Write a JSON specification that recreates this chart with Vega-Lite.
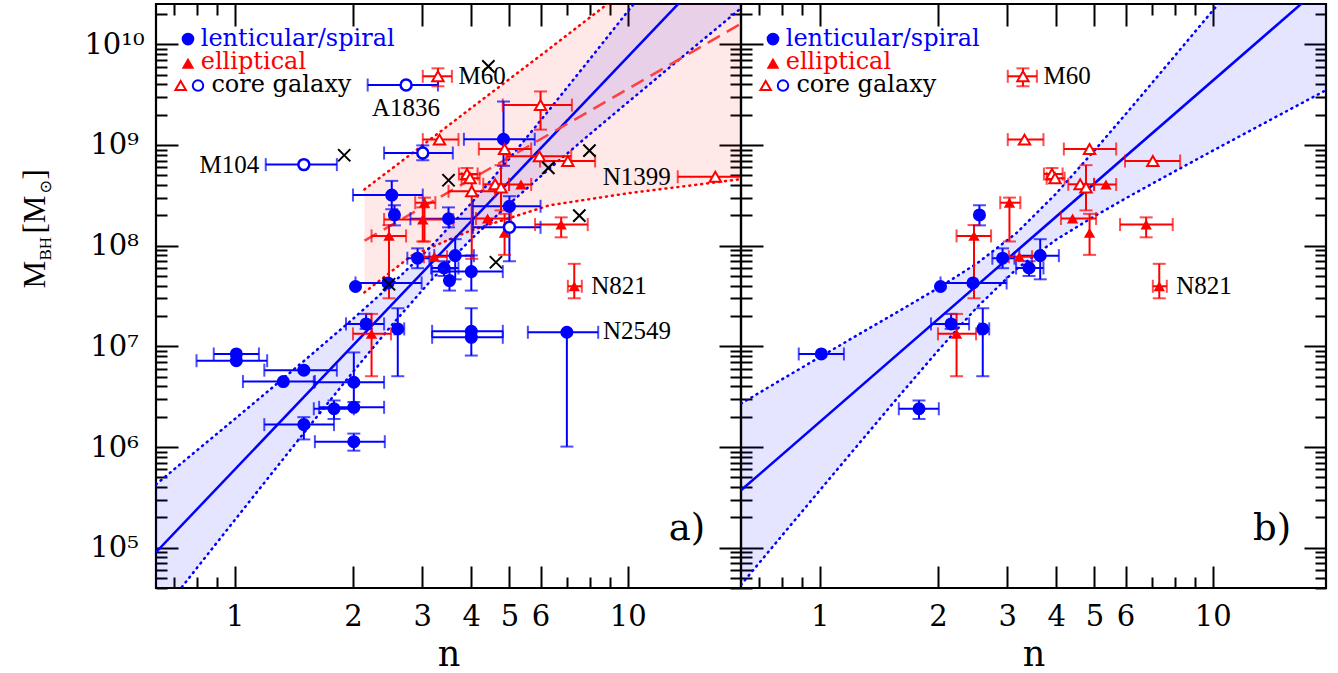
{
"$schema": "https://vega.github.io/schema/vega-lite/v6.json",
"background": "white",
"padding": {"left": 17, "top": 1, "right": 5, "bottom": 2},
"spacing": 0,
"bounds": "flush",
"config": {"view": {"stroke": "black", "strokeWidth": 2.2}, "axis": {"grid": false, "domain": false}},
"datasets": {
"pts": [
{"b":1,"t":"ls","n":1.01,"nlo":0.885,"nhi":1.153,"m":8.4e6,"mlo":8.4e6,"mhi":8.4e6},
{"b":1,"t":"ls","n":1.79,"nlo":1.59,"nhi":2.01,"m":2.4e6,"mlo":1.9e6,"mhi":2.9e6},
{"b":1,"t":"ls","n":2.03,"nlo":2.03,"nhi":2.03,"m":3.93e7,"mlo":3.93e7,"mhi":3.93e7},
{"b":1,"t":"ls","n":2.455,"nlo":2.03,"nhi":2.99,"m":4.26e7,"mlo":4.26e7,"mhi":4.26e7},
{"b":1,"t":"ls","n":2.55,"nlo":2.55,"nhi":2.55,"m":2.02e8,"mlo":1.59e8,"mhi":2.52e8},
{"b":1,"t":"ls","n":2.92,"nlo":2.75,"nhi":3.13,"m":7.5e7,"mlo":5.97e7,"mhi":9.4e7},
{"b":1,"t":"ls","n":3.64,"nlo":3.22,"nhi":4.06,"m":7.96e7,"mlo":4.63e7,"mhi":1.16e8},
{"b":1,"t":"ls","n":3.41,"nlo":3.16,"nhi":3.71,"m":6.0e7,"mlo":5.0e7,"mhi":7.0e7},
{"b":1,"t":"ls","n":2.16,"nlo":1.92,"nhi":2.40,"m":1.67e7,"mlo":1.49e7,"mhi":2.1e7},
{"b":1,"t":"ls","n":2.60,"nlo":2.55,"nhi":2.70,"m":1.49e7,"mlo":5.05e6,"mhi":2.39e7},
{"b":0,"t":"ls","n":2.51,"nlo":2.0,"nhi":3.01,"m":3.18e8,"mlo":2.3e8,"mhi":4.4e8},
{"b":0,"t":"ls","n":3.50,"nlo":2.80,"nhi":4.04,"m":1.85e8,"mlo":1.52e8,"mhi":2.4e8},
{"b":0,"t":"ls","n":1.01,"nlo":0.80,"nhi":1.21,"m":7.2e6,"mlo":7.2e6,"mhi":7.2e6},
{"b":0,"t":"ls","n":1.50,"nlo":1.19,"nhi":1.82,"m":5.8e6,"mlo":5.8e6,"mhi":5.8e6},
{"b":0,"t":"ls","n":1.33,"nlo":1.05,"nhi":1.60,"m":4.47e6,"mlo":4.47e6,"mhi":4.47e6},
{"b":0,"t":"ls","n":2.01,"nlo":1.59,"nhi":2.40,"m":4.4e6,"mlo":2.8e6,"mhi":8.7e6},
{"b":0,"t":"ls","n":2.01,"nlo":1.64,"nhi":2.40,"m":2.48e6,"mlo":2.48e6,"mhi":2.48e6},
{"b":0,"t":"ls","n":1.50,"nlo":1.19,"nhi":1.79,"m":1.67e6,"mlo":1.19e6,"mhi":1.98e6},
{"b":0,"t":"ls","n":2.01,"nlo":1.60,"nhi":2.41,"m":1.13e6,"mlo":9.2e5,"mhi":1.36e6},
{"b":0,"t":"ls","n":7.0,"nlo":5.57,"nhi":8.41,"m":1.38e7,"mlo":1.01e6,"mhi":1.38e7},
{"b":0,"t":"ls","n":4.0,"nlo":3.18,"nhi":4.81,"m":1.41e7,"mlo":1.41e7,"mhi":2.39e7},
{"b":0,"t":"ls","n":4.0,"nlo":3.18,"nhi":4.81,"m":1.23e7,"mlo":8.1e6,"mhi":1.23e7},
{"b":0,"t":"ls","n":3.52,"nlo":3.52,"nhi":3.52,"m":4.5e7,"mlo":3.58e7,"mhi":5.9e7},
{"b":0,"t":"ls","n":4.0,"nlo":3.18,"nhi":4.81,"m":5.53e7,"mlo":3.58e7,"mhi":8.0e7},
{"b":0,"t":"ls","n":4.83,"nlo":3.83,"nhi":5.80,"m":1.14e9,"mlo":6.2e8,"mhi":2.7e9},
{"b":0,"t":"ls","n":5.0,"nlo":4.04,"nhi":6.0,"m":2.46e8,"mlo":2.46e8,"mhi":2.46e8},
{"b":1,"t":"el","n":2.47,"nlo":2.23,"nhi":2.73,"m":1.25e8,"mlo":3.0e7,"mhi":1.6e8},
{"b":1,"t":"el","n":3.04,"nlo":2.88,"nhi":3.24,"m":2.67e8,"mlo":1.1e8,"mhi":3.0e8},
{"b":1,"t":"el","n":3.22,"nlo":3.03,"nhi":3.47,"m":7.76e7,"mlo":7.76e7,"mhi":7.76e7},
{"b":1,"t":"el","n":2.23,"nlo":2.0,"nhi":2.50,"m":1.33e7,"mlo":5.05e6,"mhi":2.1e7},
{"b":1,"t":"el","n":5.35,"nlo":4.99,"nhi":5.68,"m":4.05e8,"mlo":4.05e8,"mhi":4.05e8},
{"b":1,"t":"el","n":4.40,"nlo":4.11,"nhi":5.05,"m":1.86e8,"mlo":1.86e8,"mhi":1.86e8},
{"b":1,"t":"el","n":4.86,"nlo":4.86,"nhi":4.86,"m":1.34e8,"mlo":8.1e7,"mhi":2.07e8},
{"b":1,"t":"el","n":6.77,"nlo":5.81,"nhi":7.91,"m":1.62e8,"mlo":1.21e8,"mhi":1.91e8},
{"b":1,"t":"el","n":7.31,"nlo":7.04,"nhi":7.64,"m":3.95e7,"mlo":3.0e7,"mhi":6.6e7},
{"b":0,"t":"el","n":3.01,"nlo":2.40,"nhi":3.60,"m":1.82e8,"mlo":1.1e8,"mhi":2.4e8},
{"b":0,"t":"cs","n":2.73,"nlo":2.18,"nhi":3.29,"m":3.94e9,"mlo":3.94e9,"mhi":3.94e9},
{"b":0,"t":"cs","n":1.50,"nlo":1.20,"nhi":1.82,"m":6.38e8,"mlo":6.38e8,"mhi":6.38e8},
{"b":0,"t":"cs","n":3.01,"nlo":2.40,"nhi":3.59,"m":8.32e8,"mlo":7.05e8,"mhi":9.9e8},
{"b":0,"t":"cs","n":5.0,"nlo":4.04,"nhi":6.0,"m":1.52e8,"mlo":7.0e7,"mhi":3.1e8},
{"b":1,"t":"ce","n":3.29,"nlo":3.01,"nhi":3.57,"m":4.81e9,"mlo":3.83e9,"mhi":5.77e9},
{"b":1,"t":"ce","n":3.32,"nlo":3.01,"nhi":3.71,"m":1.13e9,"mlo":1.13e9,"mhi":1.13e9},
{"b":1,"t":"ce","n":4.86,"nlo":4.18,"nhi":5.68,"m":9.12e8,"mlo":9.12e8,"mhi":9.12e8},
{"b":1,"t":"ce","n":7.04,"nlo":5.98,"nhi":8.26,"m":6.93e8,"mlo":6.93e8,"mhi":6.93e8},
{"b":1,"t":"ce","n":3.90,"nlo":3.72,"nhi":4.15,"m":5.15e8,"mlo":4.5e8,"mhi":5.9e8},
{"b":1,"t":"ce","n":3.97,"nlo":3.78,"nhi":4.2,"m":4.67e8,"mlo":4.67e8,"mhi":4.67e8},
{"b":1,"t":"ce","n":4.60,"nlo":4.29,"nhi":4.99,"m":4.07e8,"mlo":4.07e8,"mhi":4.07e8},
{"b":1,"t":"ce","n":4.76,"nlo":4.76,"nhi":4.76,"m":3.78e8,"mlo":2.24e8,"mhi":6.3e8},
{"b":0,"t":"ce","n":6.0,"nlo":4.81,"nhi":7.21,"m":2.49e9,"mlo":1.42e9,"mhi":3.4e9},
{"b":0,"t":"ce","n":5.96,"nlo":4.91,"nhi":7.18,"m":7.73e8,"mlo":7.73e8,"mhi":7.73e8},
{"b":0,"t":"ce","n":4.01,"nlo":3.5,"nhi":4.6,"m":3.47e8,"mlo":7.4e7,"mhi":5.1e8},
{"b":0,"t":"ce","n":16.7,"nlo":13.4,"nhi":20.0,"m":4.83e8,"mlo":4.83e8,"mhi":4.83e8}
],
"bands": [
{"g":"aB","n":0.631,"lo":1.91e4,"hi":4.256e5},
{"g":"aB","n":0.794,"lo":5.998e4,"hi":8.974e5},
{"g":"aB","n":1.0,"lo":1.875e5,"hi":1.892e6},
{"g":"aB","n":1.259,"lo":5.834e5,"hi":4.018e6},
{"g":"aB","n":1.585,"lo":1.803e6,"hi":8.59e6},
{"g":"aB","n":1.995,"lo":5.508e6,"hi":1.858e7},
{"g":"aB","n":2.512,"lo":1.629e7,"hi":4.15e7},
{"g":"aB","n":3.162,"lo":4.539e7,"hi":9.84e7},
{"g":"aB","n":3.981,"lo":1.143e8,"hi":2.588e8},
{"g":"aB","n":5.012,"lo":2.63e8,"hi":7.413e8},
{"g":"aB","n":6.31,"lo":5.781e8,"hi":2.228e9},
{"g":"aB","n":7.943,"lo":1.245e9,"hi":6.839e9},
{"g":"aB","n":10.0,"lo":2.649e9,"hi":2.123e10},
{"g":"aB","n":12.59,"lo":5.61e9,"hi":6.622e10},
{"g":"aB","n":15.85,"lo":1.183e10,"hi":2.075e11},
{"g":"aB","n":19.41,"lo":2.28e10,"hi":5.675e11},
{"g":"aR","n":2.138,"lo":3.428e7,"hi":3.614e8},
{"g":"aR","n":2.818,"lo":7.943e7,"hi":8.2e8},
{"g":"aR","n":3.981,"lo":1.413e8,"hi":2.3e9},
{"g":"aR","n":6.31,"lo":2.512e8,"hi":9.0e9},
{"g":"aR","n":10.0,"lo":3.311e8,"hi":3.6e10},
{"g":"aR","n":19.41,"lo":4.571e8,"hi":3.0e11},
{"g":"bB","n":0.631,"lo":4.276e4,"hi":2.7e6},
{"g":"bB","n":0.794,"lo":1.259e5,"hi":4.6e6},
{"g":"bB","n":1.0,"lo":3.698e5,"hi":7.8e6},
{"g":"bB","n":1.259,"lo":1.081e6,"hi":1.32e7},
{"g":"bB","n":1.585,"lo":3.141e6,"hi":2.22e7},
{"g":"bB","n":1.995,"lo":8.954e6,"hi":3.76e7},
{"g":"bB","n":2.512,"lo":2.438e7,"hi":6.653e7},
{"g":"bB","n":3.162,"lo":5.821e7,"hi":1.327e8},
{"g":"bB","n":3.981,"lo":1.135e8,"hi":3.243e8},
{"g":"bB","n":5.012,"lo":1.972e8,"hi":8.892e8},
{"g":"bB","n":6.31,"lo":3.289e8,"hi":2.541e9},
{"g":"bB","n":7.943,"lo":5.383e8,"hi":7.396e9},
{"g":"bB","n":10.0,"lo":8.77e8,"hi":2.163e10},
{"g":"bB","n":12.59,"lo":1.419e9,"hi":6.368e10},
{"g":"bB","n":15.85,"lo":2.296e9,"hi":1.875e11},
{"g":"bB","n":19.41,"lo":3.499e9,"hi":4.853e11}
],
"fits": [
{"g":"aB","n":0.631,"m":9.02e4},{"g":"aB","n":15.85,"m":4.95e10},
{"g":"bB","n":0.631,"m":3.72e5},{"g":"bB","n":19.41,"m":4.12e10},
{"g":"aR","n":2.141,"m":1.122e8},{"g":"aR","n":19.41,"m":1.6e10}
],
"xs": [
{"n":1.90,"m":7.9e8},{"n":4.42,"m":6.04e9},{"n":3.50,"m":4.46e8},{"n":6.28,"m":5.93e8},
{"n":7.99,"m":8.8e8},{"n":7.53,"m":1.99e8},{"n":4.62,"m":6.84e7},{"n":2.47,"m":4.14e7}
],
"labs": [
{"txt":"M60","n":3.71,"m":4.81e9,"al":"l","b":1},
{"txt":"A1836","n":2.73,"m":2.32e9,"al":"c","b":0},
{"txt":"M104","n":1.155,"m":6.38e8,"al":"r","b":0},
{"txt":"N1399","n":8.64,"m":4.78e8,"al":"l","b":0},
{"txt":"N821","n":8.07,"m":3.94e7,"al":"l","b":1},
{"txt":"N2549","n":8.65,"m":1.41e7,"al":"l","b":0}
],
"legsym": [
{"t":"ls","n":0.761,"m":1.127e10},{"t":"el","n":0.761,"m":6.47e9},
{"t":"ce","n":0.729,"m":3.89e9},{"t":"cs","n":0.807,"m":3.89e9}
],
"legtxt": [
{"t":"ls","txt":"lenticular/spiral","n":0.820,"m":9.7e9},
{"t":"el","txt":"elliptical","n":0.820,"m":5.69e9},
{"t":"k","txt":"core galaxy","n":0.873,"m":3.39e9}
],
"tags": [
{"p":"a","txt":"a)","n":14.15,"m":1.528e5},
{"p":"b","txt":"b)","n":14.15,"m":1.528e5}
]
},
"hconcat": [
{
"width": 585, "height": 584,
"resolve": {"axis": {"x": "independent", "y": "independent"}},
"layer": [
{"data": {"name": "bands"}, "transform": [{"filter": "datum.g == 'aB'"}],
 "mark": {"type": "area", "orient": "vertical", "clip": true, "fillOpacity": 0.1, "color": "#0000ff"},
 "encoding": {
  "x": {"field": "n", "type": "quantitative", "scale": {"type": "log", "domain": [0.631, 19.41], "nice": false},
        "axis": {"orient": "bottom", "values": [1,2,3,4,5,6,10], "format": "d", "ticks": false, "domain": false, "grid": false, "labelFont": "DejaVu Serif", "labelFontSize": 29, "labelColor": "black", "labelPadding": 14, "labelOverlap": false, "labelFlush": false, "title": "n", "titleFont": "DejaVu Serif", "titleFontSize": 35, "titleFontWeight": "normal", "titleColor": "black", "titleY": 77, "titleBaseline": "alphabetic"}},
  "y": {"field": "lo", "type": "quantitative", "scale": {"type": "log", "domain": [39810, 2.512e10], "nice": false},
        "axis": {"orient": "left", "values": [1e5,1e6,1e7,1e8,1e9,1e10], "labelExpr": "datum.value > 5e9 ? '10¹⁰' : datum.value > 5e8 ? '10⁹' : datum.value > 5e7 ? '10⁸' : datum.value > 5e6 ? '10⁷' : datum.value > 5e5 ? '10⁶' : '10⁵'", "ticks": false, "domain": false, "grid": false, "labelFont": "DejaVu Serif", "labelFontSize": 29, "labelColor": "black", "labelPadding": 42, "labelAlign": "center", "labelBaseline": "middle", "title": "M", "titleFont": "Liberation Serif", "titleFontSize": 31, "titleFontWeight": "normal", "titleColor": "black", "titleAngle": 270, "titleAlign": "left", "titleBaseline": "alphabetic", "titleX": -112, "titleY": 284}},
  "y2": {"field": "hi"}}},
{"data": {"name": "bands"}, "transform": [{"filter": "datum.g == 'aR'"}],
 "mark": {"type": "area", "orient": "vertical", "clip": true, "fillOpacity": 0.09, "color": "#ff0000"},
 "encoding": {
  "x": {"field": "n", "type": "quantitative", "scale": {"type": "log", "domain": [0.631, 19.41], "nice": false}, "axis": null},
  "y": {"field": "lo", "type": "quantitative", "scale": {"type": "log", "domain": [39810, 2.512e10], "nice": false}, "axis": null},
  "y2": {"field": "hi"}}},
{"data": {"name": "bands"}, "transform": [{"filter": "datum.g != 'bB'"}],
 "mark": {"type": "line", "clip": true, "strokeWidth": 2.5, "strokeDash": [1, 5], "strokeCap": "round"},
 "encoding": {
  "x": {"field": "n", "type": "quantitative", "scale": {"type": "log", "domain": [0.631, 19.41], "nice": false},
        "axis": {"orient": "bottom", "values": [1,2,3,4,5,6,10], "labels": false, "domain": false, "grid": false, "tickSize": -22, "tickWidth": 2, "tickColor": "black", "title": null}},
  "y": {"field": "lo", "type": "quantitative", "scale": {"type": "log", "domain": [39810, 2.512e10], "nice": false},
        "axis": {"orient": "left", "values": [1e5,1e6,1e7,1e8,1e9,1e10], "labels": false, "domain": false, "grid": false, "tickSize": -22, "tickWidth": 2, "tickColor": "black", "title": "BH", "titleFont": "Liberation Serif", "titleFontSize": 17, "titleFontWeight": "normal", "titleColor": "black", "titleAngle": 270, "titleAlign": "left", "titleBaseline": "alphabetic", "titleX": -106, "titleY": 256}},
  "color": {"field": "g", "type": "nominal", "scale": {"domain": ["ls","el","cs","ce","k","aB","aR","bB"], "range": ["#0000ff","#ff0000","#0000ff","#ff0000","#000000","#0000ff","#ff0000","#0000ff"]}, "legend": null}}},
{"data": {"name": "bands"}, "transform": [{"filter": "datum.g != 'bB'"}],
 "mark": {"type": "line", "clip": true, "strokeWidth": 2.5, "strokeDash": [1, 5], "strokeCap": "round"},
 "encoding": {
  "x": {"field": "n", "type": "quantitative", "scale": {"type": "log", "domain": [0.631, 19.41], "nice": false},
        "axis": {"orient": "bottom", "values": [0.7,0.8,0.9,7,8,9], "labels": false, "domain": false, "grid": false, "tickSize": -11, "tickWidth": 2, "tickColor": "black", "title": null}},
  "y": {"field": "hi", "type": "quantitative", "scale": {"type": "log", "domain": [39810, 2.512e10], "nice": false},
        "axis": {"orient": "left", "values": [40000,50000,60000,70000,80000,90000,200000,300000,400000,500000,600000,700000,800000,900000,2e6,3e6,4e6,5e6,6e6,7e6,8e6,9e6,2e7,3e7,4e7,5e7,6e7,7e7,8e7,9e7,2e8,3e8,4e8,5e8,6e8,7e8,8e8,9e8,2e9,3e9,4e9,5e9,6e9,7e9,8e9,9e9,2e10], "labels": false, "domain": false, "grid": false, "tickSize": -11, "tickWidth": 2, "tickColor": "black", "title": "[M", "titleFont": "Liberation Serif", "titleFontSize": 31, "titleFontWeight": "normal", "titleColor": "black", "titleAngle": 270, "titleAlign": "left", "titleBaseline": "alphabetic", "titleX": -112, "titleY": 229}},
  "color": {"field": "g", "type": "nominal", "scale": {"domain": ["ls","el","cs","ce","k","aB","aR","bB"], "range": ["#0000ff","#ff0000","#0000ff","#ff0000","#000000","#0000ff","#ff0000","#0000ff"]}, "legend": null}}},
{"data": {"name": "fits"}, "transform": [{"filter": "datum.g == 'aB'"}],
 "mark": {"type": "line", "clip": true, "strokeWidth": 2.5, "color": "#0000ff"},
 "encoding": {
  "x": {"field": "n", "type": "quantitative", "scale": {"type": "log", "domain": [0.631, 19.41], "nice": false},
        "axis": {"orient": "top", "values": [1,2,3,4,5,6,10], "labels": false, "domain": false, "grid": false, "tickSize": -22, "tickWidth": 2, "tickColor": "black", "title": null}},
  "y": {"field": "m", "type": "quantitative", "scale": {"type": "log", "domain": [39810, 2.512e10], "nice": false},
        "axis": {"orient": "right", "values": [1e5,1e6,1e7,1e8,1e9,1e10], "labels": false, "domain": false, "grid": false, "tickSize": -22, "tickWidth": 2, "tickColor": "black", "title": "⊙", "titleFont": "DejaVu Sans", "titleFontSize": 16, "titleFontWeight": "normal", "titleColor": "black", "titleAngle": 270, "titleAlign": "left", "titleBaseline": "alphabetic", "titleX": -691, "titleY": 189}}}},
{"data": {"name": "fits"}, "transform": [{"filter": "datum.g == 'aR'"}],
 "mark": {"type": "line", "clip": true, "strokeWidth": 2.5, "color": "#ff4040", "strokeDash": [14, 8]},
 "encoding": {
  "x": {"field": "n", "type": "quantitative", "scale": {"type": "log", "domain": [0.631, 19.41], "nice": false},
        "axis": {"orient": "top", "values": [0.7,0.8,0.9,7,8,9], "labels": false, "domain": false, "grid": false, "tickSize": -11, "tickWidth": 2, "tickColor": "black", "title": null}},
  "y": {"field": "m", "type": "quantitative", "scale": {"type": "log", "domain": [39810, 2.512e10], "nice": false},
        "axis": {"orient": "right", "values": [40000,50000,60000,70000,80000,90000,200000,300000,400000,500000,600000,700000,800000,900000,2e6,3e6,4e6,5e6,6e6,7e6,8e6,9e6,2e7,3e7,4e7,5e7,6e7,7e7,8e7,9e7,2e8,3e8,4e8,5e8,6e8,7e8,8e8,9e8,2e9,3e9,4e9,5e9,6e9,7e9,8e9,9e9,2e10], "labels": false, "domain": false, "grid": false, "tickSize": -11, "tickWidth": 2, "tickColor": "black", "title": "]", "titleFont": "Liberation Serif", "titleFontSize": 31, "titleFontWeight": "normal", "titleColor": "black", "titleAngle": 270, "titleAlign": "left", "titleBaseline": "alphabetic", "titleX": -697, "titleY": 175}}}},
{"data": {"name": "pts"}, "transform": [{"filter": "datum.nhi > datum.nlo"}],
 "mark": {"type": "rule", "clip": true, "strokeWidth": 2},
 "encoding": {
  "x": {"field": "nlo", "type": "quantitative", "scale": {"type": "log", "domain": [0.631, 19.41], "nice": false}, "axis": null},
  "x2": {"field": "nhi"},
  "y": {"field": "m", "type": "quantitative", "scale": {"type": "log", "domain": [39810, 2.512e10], "nice": false}, "axis": null},
  "color": {"field": "t", "type": "nominal", "scale": {"domain": ["ls","el","cs","ce","k","aB","aR","bB"], "range": ["#0000ff","#ff0000","#0000ff","#ff0000","#000000","#0000ff","#ff0000","#0000ff"]}, "legend": null}}},
{"data": {"name": "pts"}, "transform": [{"filter": "datum.mhi > datum.mlo"}],
 "mark": {"type": "rule", "clip": true, "strokeWidth": 2},
 "encoding": {
  "x": {"field": "n", "type": "quantitative", "scale": {"type": "log", "domain": [0.631, 19.41], "nice": false}, "axis": null},
  "y": {"field": "mlo", "type": "quantitative", "scale": {"type": "log", "domain": [39810, 2.512e10], "nice": false}, "axis": null},
  "y2": {"field": "mhi"},
  "color": {"field": "t", "type": "nominal", "scale": {"domain": ["ls","el","cs","ce","k","aB","aR","bB"], "range": ["#0000ff","#ff0000","#0000ff","#ff0000","#000000","#0000ff","#ff0000","#0000ff"]}, "legend": null}}},
{"data": {"name": "pts"}, "transform": [{"fold": ["nlo", "nhi"], "as": ["k", "v"]}, {"filter": "datum.v != datum.n"}],
 "mark": {"type": "tick", "orient": "vertical", "clip": true, "size": 13, "thickness": 2},
 "encoding": {
  "x": {"field": "v", "type": "quantitative", "scale": {"type": "log", "domain": [0.631, 19.41], "nice": false}, "axis": null},
  "y": {"field": "m", "type": "quantitative", "scale": {"type": "log", "domain": [39810, 2.512e10], "nice": false}, "axis": null},
  "color": {"field": "t", "type": "nominal", "scale": {"domain": ["ls","el","cs","ce","k","aB","aR","bB"], "range": ["#0000ff","#ff0000","#0000ff","#ff0000","#000000","#0000ff","#ff0000","#0000ff"]}, "legend": null}}},
{"data": {"name": "pts"}, "transform": [{"fold": ["mlo", "mhi"], "as": ["k", "v"]}, {"filter": "datum.v != datum.m"}],
 "mark": {"type": "tick", "orient": "horizontal", "clip": true, "size": 13, "thickness": 2},
 "encoding": {
  "x": {"field": "n", "type": "quantitative", "scale": {"type": "log", "domain": [0.631, 19.41], "nice": false}, "axis": null},
  "y": {"field": "v", "type": "quantitative", "scale": {"type": "log", "domain": [39810, 2.512e10], "nice": false}, "axis": null},
  "color": {"field": "t", "type": "nominal", "scale": {"domain": ["ls","el","cs","ce","k","aB","aR","bB"], "range": ["#0000ff","#ff0000","#0000ff","#ff0000","#000000","#0000ff","#ff0000","#0000ff"]}, "legend": null}}},
{"data": {"name": "pts"}, "transform": [{"filter": "datum.t == 'ls'"}],
 "mark": {"type": "point", "shape": "circle", "filled": true, "opacity": 1, "size": 170, "color": "#0000ff"},
 "encoding": {
  "x": {"field": "n", "type": "quantitative", "scale": {"type": "log", "domain": [0.631, 19.41], "nice": false}, "axis": null},
  "y": {"field": "m", "type": "quantitative", "scale": {"type": "log", "domain": [39810, 2.512e10], "nice": false}, "axis": null}}},
{"data": {"name": "pts"}, "transform": [{"filter": "datum.t == 'el'"}],
 "mark": {"type": "point", "shape": "triangle-up", "filled": true, "opacity": 1, "size": 130, "color": "#ff0000"},
 "encoding": {
  "x": {"field": "n", "type": "quantitative", "scale": {"type": "log", "domain": [0.631, 19.41], "nice": false}, "axis": null},
  "y": {"field": "m", "type": "quantitative", "scale": {"type": "log", "domain": [39810, 2.512e10], "nice": false}, "axis": null}}},
{"data": {"name": "pts"}, "transform": [{"filter": "datum.t == 'cs'"}],
 "mark": {"type": "point", "shape": "circle", "filled": false, "fill": "white", "fillOpacity": 1, "opacity": 1, "size": 120, "stroke": "#0000ff", "strokeWidth": 2.5},
 "encoding": {
  "x": {"field": "n", "type": "quantitative", "scale": {"type": "log", "domain": [0.631, 19.41], "nice": false}, "axis": null},
  "y": {"field": "m", "type": "quantitative", "scale": {"type": "log", "domain": [39810, 2.512e10], "nice": false}, "axis": null}}},
{"data": {"name": "pts"}, "transform": [{"filter": "datum.t == 'ce'"}],
 "mark": {"type": "point", "shape": "triangle-up", "filled": false, "fill": "white", "fillOpacity": 1, "opacity": 1, "size": 130, "stroke": "#ff0000", "strokeWidth": 2},
 "encoding": {
  "x": {"field": "n", "type": "quantitative", "scale": {"type": "log", "domain": [0.631, 19.41], "nice": false}, "axis": null},
  "y": {"field": "m", "type": "quantitative", "scale": {"type": "log", "domain": [39810, 2.512e10], "nice": false}, "axis": null}}},
{"data": {"name": "xs"},
 "mark": {"type": "point", "shape": "M-1,-1L1,1M-1,1L1,-1", "filled": false, "opacity": 1, "size": 150, "stroke": "black", "strokeWidth": 2},
 "encoding": {
  "x": {"field": "n", "type": "quantitative", "scale": {"type": "log", "domain": [0.631, 19.41], "nice": false}, "axis": null},
  "y": {"field": "m", "type": "quantitative", "scale": {"type": "log", "domain": [39810, 2.512e10], "nice": false}, "axis": null}}},
{"data": {"name": "labs"}, "transform": [{"filter": "datum.al == 'l'"}],
 "mark": {"type": "text", "align": "left", "baseline": "middle", "font": "Liberation Serif", "fontSize": 25, "color": "black"},
 "encoding": {
  "x": {"field": "n", "type": "quantitative", "scale": {"type": "log", "domain": [0.631, 19.41], "nice": false}, "axis": null},
  "y": {"field": "m", "type": "quantitative", "scale": {"type": "log", "domain": [39810, 2.512e10], "nice": false}, "axis": null},
  "text": {"field": "txt"}}},
{"data": {"name": "labs"}, "transform": [{"filter": "datum.al == 'c'"}],
 "mark": {"type": "text", "align": "center", "baseline": "middle", "font": "Liberation Serif", "fontSize": 25, "color": "black"},
 "encoding": {
  "x": {"field": "n", "type": "quantitative", "scale": {"type": "log", "domain": [0.631, 19.41], "nice": false}, "axis": null},
  "y": {"field": "m", "type": "quantitative", "scale": {"type": "log", "domain": [39810, 2.512e10], "nice": false}, "axis": null},
  "text": {"field": "txt"}}},
{"data": {"name": "labs"}, "transform": [{"filter": "datum.al == 'r'"}],
 "mark": {"type": "text", "align": "right", "baseline": "middle", "font": "Liberation Serif", "fontSize": 25, "color": "black"},
 "encoding": {
  "x": {"field": "n", "type": "quantitative", "scale": {"type": "log", "domain": [0.631, 19.41], "nice": false}, "axis": null},
  "y": {"field": "m", "type": "quantitative", "scale": {"type": "log", "domain": [39810, 2.512e10], "nice": false}, "axis": null},
  "text": {"field": "txt"}}},
{"data": {"name": "legsym"}, "transform": [{"filter": "datum.t == 'ls' || datum.t == 'el'"}],
 "mark": {"type": "point", "filled": true, "opacity": 1, "size": 160},
 "encoding": {
  "x": {"field": "n", "type": "quantitative", "scale": {"type": "log", "domain": [0.631, 19.41], "nice": false}, "axis": null},
  "y": {"field": "m", "type": "quantitative", "scale": {"type": "log", "domain": [39810, 2.512e10], "nice": false}, "axis": null},
  "shape": {"field": "t", "type": "nominal", "scale": {"domain": ["ls","el","cs","ce"], "range": ["circle","triangle-up","circle","triangle-up"]}, "legend": null},
  "color": {"field": "t", "type": "nominal", "scale": {"domain": ["ls","el","cs","ce","k","aB","aR","bB"], "range": ["#0000ff","#ff0000","#0000ff","#ff0000","#000000","#0000ff","#ff0000","#0000ff"]}, "legend": null}}},
{"data": {"name": "legsym"}, "transform": [{"filter": "datum.t == 'cs' || datum.t == 'ce'"}],
 "mark": {"type": "point", "filled": false, "opacity": 1, "size": 110, "strokeWidth": 2},
 "encoding": {
  "x": {"field": "n", "type": "quantitative", "scale": {"type": "log", "domain": [0.631, 19.41], "nice": false}, "axis": null},
  "y": {"field": "m", "type": "quantitative", "scale": {"type": "log", "domain": [39810, 2.512e10], "nice": false}, "axis": null},
  "shape": {"field": "t", "type": "nominal", "scale": {"domain": ["ls","el","cs","ce"], "range": ["circle","triangle-up","circle","triangle-up"]}, "legend": null},
  "color": {"field": "t", "type": "nominal", "scale": {"domain": ["ls","el","cs","ce","k","aB","aR","bB"], "range": ["#0000ff","#ff0000","#0000ff","#ff0000","#000000","#0000ff","#ff0000","#0000ff"]}, "legend": null}}},
{"data": {"name": "legtxt"},
 "mark": {"type": "text", "align": "left", "baseline": "alphabetic", "font": "DejaVu Serif", "fontSize": 24},
 "encoding": {
  "x": {"field": "n", "type": "quantitative", "scale": {"type": "log", "domain": [0.631, 19.41], "nice": false}, "axis": null},
  "y": {"field": "m", "type": "quantitative", "scale": {"type": "log", "domain": [39810, 2.512e10], "nice": false}, "axis": null},
  "text": {"field": "txt"},
  "color": {"field": "t", "type": "nominal", "scale": {"domain": ["ls","el","cs","ce","k","aB","aR","bB"], "range": ["#0000ff","#ff0000","#0000ff","#ff0000","#000000","#0000ff","#ff0000","#0000ff"]}, "legend": null}}},
{"data": {"name": "tags"}, "transform": [{"filter": "datum.p == 'a'"}],
 "mark": {"type": "text", "align": "center", "baseline": "middle", "font": "DejaVu Serif", "fontSize": 37, "color": "black"},
 "encoding": {
  "x": {"field": "n", "type": "quantitative", "scale": {"type": "log", "domain": [0.631, 19.41], "nice": false}, "axis": null},
  "y": {"field": "m", "type": "quantitative", "scale": {"type": "log", "domain": [39810, 2.512e10], "nice": false}, "axis": null},
  "text": {"field": "txt"}}}
]
},
{
"width": 585, "height": 584,
"resolve": {"axis": {"x": "independent", "y": "independent"}},
"layer": [
{"data": {"name": "bands"}, "transform": [{"filter": "datum.g == 'bB'"}],
 "mark": {"type": "area", "orient": "vertical", "clip": true, "fillOpacity": 0.1, "color": "#0000ff"},
 "encoding": {
  "x": {"field": "n", "type": "quantitative", "scale": {"type": "log", "domain": [0.631, 19.41], "nice": false},
        "axis": {"orient": "bottom", "values": [1,2,3,4,5,6,10], "format": "d", "ticks": false, "domain": false, "grid": false, "labelFont": "DejaVu Serif", "labelFontSize": 29, "labelColor": "black", "labelPadding": 14, "labelOverlap": false, "labelFlush": false, "title": "n", "titleFont": "DejaVu Serif", "titleFontSize": 35, "titleFontWeight": "normal", "titleColor": "black", "titleY": 77, "titleBaseline": "alphabetic"}},
  "y": {"field": "lo", "type": "quantitative", "scale": {"type": "log", "domain": [39810, 2.512e10], "nice": false},
        "axis": {"orient": "left", "values": [1e5,1e6,1e7,1e8,1e9,1e10], "labels": false, "domain": false, "grid": false, "tickSize": -22, "tickWidth": 2, "tickColor": "black", "title": null}},
  "y2": {"field": "hi"}}},
{"data": {"name": "bands"}, "transform": [{"filter": "datum.g == 'bB'"}],
 "mark": {"type": "line", "clip": true, "strokeWidth": 2.5, "strokeDash": [1, 5], "strokeCap": "round", "color": "#0000ff"},
 "encoding": {
  "x": {"field": "n", "type": "quantitative", "scale": {"type": "log", "domain": [0.631, 19.41], "nice": false},
        "axis": {"orient": "bottom", "values": [1,2,3,4,5,6,10], "labels": false, "domain": false, "grid": false, "tickSize": -22, "tickWidth": 2, "tickColor": "black", "title": null}},
  "y": {"field": "lo", "type": "quantitative", "scale": {"type": "log", "domain": [39810, 2.512e10], "nice": false},
        "axis": {"orient": "left", "values": [40000,50000,60000,70000,80000,90000,200000,300000,400000,500000,600000,700000,800000,900000,2e6,3e6,4e6,5e6,6e6,7e6,8e6,9e6,2e7,3e7,4e7,5e7,6e7,7e7,8e7,9e7,2e8,3e8,4e8,5e8,6e8,7e8,8e8,9e8,2e9,3e9,4e9,5e9,6e9,7e9,8e9,9e9,2e10], "labels": false, "domain": false, "grid": false, "tickSize": -11, "tickWidth": 2, "tickColor": "black", "title": null}}}},
{"data": {"name": "bands"}, "transform": [{"filter": "datum.g == 'bB'"}],
 "mark": {"type": "line", "clip": true, "strokeWidth": 2.5, "strokeDash": [1, 5], "strokeCap": "round", "color": "#0000ff"},
 "encoding": {
  "x": {"field": "n", "type": "quantitative", "scale": {"type": "log", "domain": [0.631, 19.41], "nice": false},
        "axis": {"orient": "bottom", "values": [0.7,0.8,0.9,7,8,9], "labels": false, "domain": false, "grid": false, "tickSize": -11, "tickWidth": 2, "tickColor": "black", "title": null}},
  "y": {"field": "hi", "type": "quantitative", "scale": {"type": "log", "domain": [39810, 2.512e10], "nice": false},
        "axis": {"orient": "right", "values": [1e5,1e6,1e7,1e8,1e9,1e10], "labels": false, "domain": false, "grid": false, "tickSize": -22, "tickWidth": 2, "tickColor": "black", "title": null}}}},
{"data": {"name": "fits"}, "transform": [{"filter": "datum.g == 'bB'"}],
 "mark": {"type": "line", "clip": true, "strokeWidth": 2.5, "color": "#0000ff"},
 "encoding": {
  "x": {"field": "n", "type": "quantitative", "scale": {"type": "log", "domain": [0.631, 19.41], "nice": false},
        "axis": {"orient": "top", "values": [1,2,3,4,5,6,10], "labels": false, "domain": false, "grid": false, "tickSize": -22, "tickWidth": 2, "tickColor": "black", "title": null}},
  "y": {"field": "m", "type": "quantitative", "scale": {"type": "log", "domain": [39810, 2.512e10], "nice": false},
        "axis": {"orient": "right", "values": [40000,50000,60000,70000,80000,90000,200000,300000,400000,500000,600000,700000,800000,900000,2e6,3e6,4e6,5e6,6e6,7e6,8e6,9e6,2e7,3e7,4e7,5e7,6e7,7e7,8e7,9e7,2e8,3e8,4e8,5e8,6e8,7e8,8e8,9e8,2e9,3e9,4e9,5e9,6e9,7e9,8e9,9e9,2e10], "labels": false, "domain": false, "grid": false, "tickSize": -11, "tickWidth": 2, "tickColor": "black", "title": null}}}},
{"data": {"name": "pts"}, "transform": [{"filter": "datum.b == 1 && datum.nhi > datum.nlo"}],
 "mark": {"type": "rule", "clip": true, "strokeWidth": 2},
 "encoding": {
  "x": {"field": "nlo", "type": "quantitative", "scale": {"type": "log", "domain": [0.631, 19.41], "nice": false},
        "axis": {"orient": "top", "values": [0.7,0.8,0.9,7,8,9], "labels": false, "domain": false, "grid": false, "tickSize": -11, "tickWidth": 2, "tickColor": "black", "title": null}},
  "x2": {"field": "nhi"},
  "y": {"field": "m", "type": "quantitative", "scale": {"type": "log", "domain": [39810, 2.512e10], "nice": false}, "axis": null},
  "color": {"field": "t", "type": "nominal", "scale": {"domain": ["ls","el","cs","ce","k","aB","aR","bB"], "range": ["#0000ff","#ff0000","#0000ff","#ff0000","#000000","#0000ff","#ff0000","#0000ff"]}, "legend": null}}},
{"data": {"name": "pts"}, "transform": [{"filter": "datum.b == 1 && datum.mhi > datum.mlo"}],
 "mark": {"type": "rule", "clip": true, "strokeWidth": 2},
 "encoding": {
  "x": {"field": "n", "type": "quantitative", "scale": {"type": "log", "domain": [0.631, 19.41], "nice": false}, "axis": null},
  "y": {"field": "mlo", "type": "quantitative", "scale": {"type": "log", "domain": [39810, 2.512e10], "nice": false}, "axis": null},
  "y2": {"field": "mhi"},
  "color": {"field": "t", "type": "nominal", "scale": {"domain": ["ls","el","cs","ce","k","aB","aR","bB"], "range": ["#0000ff","#ff0000","#0000ff","#ff0000","#000000","#0000ff","#ff0000","#0000ff"]}, "legend": null}}},
{"data": {"name": "pts"}, "transform": [{"filter": "datum.b == 1"}, {"fold": ["nlo", "nhi"], "as": ["k", "v"]}, {"filter": "datum.v != datum.n"}],
 "mark": {"type": "tick", "orient": "vertical", "clip": true, "size": 13, "thickness": 2},
 "encoding": {
  "x": {"field": "v", "type": "quantitative", "scale": {"type": "log", "domain": [0.631, 19.41], "nice": false}, "axis": null},
  "y": {"field": "m", "type": "quantitative", "scale": {"type": "log", "domain": [39810, 2.512e10], "nice": false}, "axis": null},
  "color": {"field": "t", "type": "nominal", "scale": {"domain": ["ls","el","cs","ce","k","aB","aR","bB"], "range": ["#0000ff","#ff0000","#0000ff","#ff0000","#000000","#0000ff","#ff0000","#0000ff"]}, "legend": null}}},
{"data": {"name": "pts"}, "transform": [{"filter": "datum.b == 1"}, {"fold": ["mlo", "mhi"], "as": ["k", "v"]}, {"filter": "datum.v != datum.m"}],
 "mark": {"type": "tick", "orient": "horizontal", "clip": true, "size": 13, "thickness": 2},
 "encoding": {
  "x": {"field": "n", "type": "quantitative", "scale": {"type": "log", "domain": [0.631, 19.41], "nice": false}, "axis": null},
  "y": {"field": "v", "type": "quantitative", "scale": {"type": "log", "domain": [39810, 2.512e10], "nice": false}, "axis": null},
  "color": {"field": "t", "type": "nominal", "scale": {"domain": ["ls","el","cs","ce","k","aB","aR","bB"], "range": ["#0000ff","#ff0000","#0000ff","#ff0000","#000000","#0000ff","#ff0000","#0000ff"]}, "legend": null}}},
{"data": {"name": "pts"}, "transform": [{"filter": "datum.b == 1 && datum.t == 'ls'"}],
 "mark": {"type": "point", "shape": "circle", "filled": true, "opacity": 1, "size": 170, "color": "#0000ff"},
 "encoding": {
  "x": {"field": "n", "type": "quantitative", "scale": {"type": "log", "domain": [0.631, 19.41], "nice": false}, "axis": null},
  "y": {"field": "m", "type": "quantitative", "scale": {"type": "log", "domain": [39810, 2.512e10], "nice": false}, "axis": null}}},
{"data": {"name": "pts"}, "transform": [{"filter": "datum.b == 1 && datum.t == 'el'"}],
 "mark": {"type": "point", "shape": "triangle-up", "filled": true, "opacity": 1, "size": 130, "color": "#ff0000"},
 "encoding": {
  "x": {"field": "n", "type": "quantitative", "scale": {"type": "log", "domain": [0.631, 19.41], "nice": false}, "axis": null},
  "y": {"field": "m", "type": "quantitative", "scale": {"type": "log", "domain": [39810, 2.512e10], "nice": false}, "axis": null}}},
{"data": {"name": "pts"}, "transform": [{"filter": "datum.b == 1 && datum.t == 'ce'"}],
 "mark": {"type": "point", "shape": "triangle-up", "filled": false, "fill": "white", "fillOpacity": 1, "opacity": 1, "size": 130, "stroke": "#ff0000", "strokeWidth": 2},
 "encoding": {
  "x": {"field": "n", "type": "quantitative", "scale": {"type": "log", "domain": [0.631, 19.41], "nice": false}, "axis": null},
  "y": {"field": "m", "type": "quantitative", "scale": {"type": "log", "domain": [39810, 2.512e10], "nice": false}, "axis": null}}},
{"data": {"name": "labs"}, "transform": [{"filter": "datum.b == 1"}],
 "mark": {"type": "text", "align": "left", "baseline": "middle", "font": "Liberation Serif", "fontSize": 25, "color": "black"},
 "encoding": {
  "x": {"field": "n", "type": "quantitative", "scale": {"type": "log", "domain": [0.631, 19.41], "nice": false}, "axis": null},
  "y": {"field": "m", "type": "quantitative", "scale": {"type": "log", "domain": [39810, 2.512e10], "nice": false}, "axis": null},
  "text": {"field": "txt"}}},
{"data": {"name": "legsym"}, "transform": [{"filter": "datum.t == 'ls' || datum.t == 'el'"}],
 "mark": {"type": "point", "filled": true, "opacity": 1, "size": 160},
 "encoding": {
  "x": {"field": "n", "type": "quantitative", "scale": {"type": "log", "domain": [0.631, 19.41], "nice": false}, "axis": null},
  "y": {"field": "m", "type": "quantitative", "scale": {"type": "log", "domain": [39810, 2.512e10], "nice": false}, "axis": null},
  "shape": {"field": "t", "type": "nominal", "scale": {"domain": ["ls","el","cs","ce"], "range": ["circle","triangle-up","circle","triangle-up"]}, "legend": null},
  "color": {"field": "t", "type": "nominal", "scale": {"domain": ["ls","el","cs","ce","k","aB","aR","bB"], "range": ["#0000ff","#ff0000","#0000ff","#ff0000","#000000","#0000ff","#ff0000","#0000ff"]}, "legend": null}}},
{"data": {"name": "legsym"}, "transform": [{"filter": "datum.t == 'cs' || datum.t == 'ce'"}],
 "mark": {"type": "point", "filled": false, "opacity": 1, "size": 110, "strokeWidth": 2},
 "encoding": {
  "x": {"field": "n", "type": "quantitative", "scale": {"type": "log", "domain": [0.631, 19.41], "nice": false}, "axis": null},
  "y": {"field": "m", "type": "quantitative", "scale": {"type": "log", "domain": [39810, 2.512e10], "nice": false}, "axis": null},
  "shape": {"field": "t", "type": "nominal", "scale": {"domain": ["ls","el","cs","ce"], "range": ["circle","triangle-up","circle","triangle-up"]}, "legend": null},
  "color": {"field": "t", "type": "nominal", "scale": {"domain": ["ls","el","cs","ce","k","aB","aR","bB"], "range": ["#0000ff","#ff0000","#0000ff","#ff0000","#000000","#0000ff","#ff0000","#0000ff"]}, "legend": null}}},
{"data": {"name": "legtxt"},
 "mark": {"type": "text", "align": "left", "baseline": "alphabetic", "font": "DejaVu Serif", "fontSize": 24},
 "encoding": {
  "x": {"field": "n", "type": "quantitative", "scale": {"type": "log", "domain": [0.631, 19.41], "nice": false}, "axis": null},
  "y": {"field": "m", "type": "quantitative", "scale": {"type": "log", "domain": [39810, 2.512e10], "nice": false}, "axis": null},
  "text": {"field": "txt"},
  "color": {"field": "t", "type": "nominal", "scale": {"domain": ["ls","el","cs","ce","k","aB","aR","bB"], "range": ["#0000ff","#ff0000","#0000ff","#ff0000","#000000","#0000ff","#ff0000","#0000ff"]}, "legend": null}}},
{"data": {"name": "tags"}, "transform": [{"filter": "datum.p == 'b'"}],
 "mark": {"type": "text", "align": "center", "baseline": "middle", "font": "DejaVu Serif", "fontSize": 37, "color": "black"},
 "encoding": {
  "x": {"field": "n", "type": "quantitative", "scale": {"type": "log", "domain": [0.631, 19.41], "nice": false}, "axis": null},
  "y": {"field": "m", "type": "quantitative", "scale": {"type": "log", "domain": [39810, 2.512e10], "nice": false}, "axis": null},
  "text": {"field": "txt"}}}
]
}
]
}
